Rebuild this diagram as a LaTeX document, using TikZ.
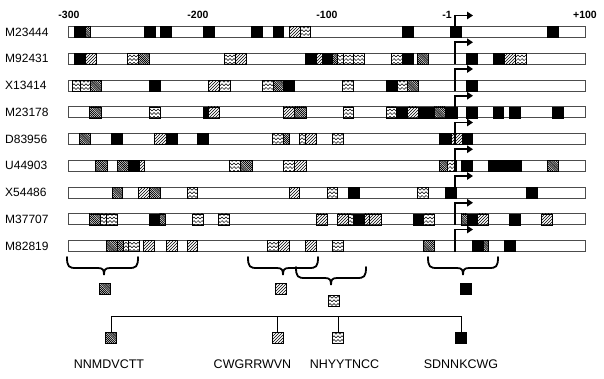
\documentclass[tikz,border=0pt]{standalone}
\usepackage{fontspec}
\setmainfont{Liberation Sans}
\usetikzlibrary{patterns,arrows.meta}

\pgfdeclarepatternformonly{densenw}{\pgfqpoint{-1pt}{-1pt}}{\pgfqpoint{3pt}{3pt}}{\pgfqpoint{2.1pt}{2.1pt}}{%
  \pgfsetlinewidth{0.75pt}%
  \pgfpathmoveto{\pgfqpoint{0pt}{2.1pt}}%
  \pgfpathlineto{\pgfqpoint{2.2pt}{-0.1pt}}%
  \pgfusepath{stroke}}
\pgfdeclarepatternformonly{sparsene}{\pgfqpoint{-1pt}{-1pt}}{\pgfqpoint{4pt}{4pt}}{\pgfqpoint{3pt}{3pt}}{%
  \pgfsetlinewidth{0.55pt}%
  \pgfpathmoveto{\pgfqpoint{0pt}{0pt}}%
  \pgfpathlineto{\pgfqpoint{3.1pt}{3.1pt}}%
  \pgfusepath{stroke}}
\pgfdeclarepatternformonly{wavy}{\pgfqpoint{-0.5pt}{-0.5pt}}{\pgfqpoint{4.5pt}{4pt}}{\pgfqpoint{4pt}{3.6pt}}{%
  \pgfsetlinewidth{0.5pt}%
  \pgfpathmoveto{\pgfqpoint{0pt}{0.6pt}}%
  \pgfpathlineto{\pgfqpoint{2pt}{2.6pt}}%
  \pgfpathlineto{\pgfqpoint{4pt}{0.6pt}}%
  \pgfusepath{stroke}}

\tikzset{
  bar/.style={draw=black!70, fill=white, line width=0.8pt},
  mB/.style={fill=black, draw=black, line width=0.5pt},
  mD/.style={pattern=densenw, draw=black, line width=0.5pt},
  mH/.style={pattern=sparsene, draw=black, line width=0.5pt},
  mW/.style={pattern=wavy, draw=black, line width=0.5pt},
  tss/.style={line width=1.8pt, line join=miter, -{Triangle[length=6pt,width=7.5pt]}},
  rowlab/.style={anchor=west, inner sep=0pt, font=\fontsize{12}{14}\selectfont},
  scl/.style={inner sep=0pt, font=\fontsize{10.5}{12}\selectfont\bfseries},
  brc/.style={line width=1.8pt, line cap=round},
  sq/.style={minimum size=11pt, inner sep=0pt, draw=black, line width=0.5pt},
  conn/.style={line width=0.8pt},
  leglab/.style={inner sep=0pt, font=\fontsize{12.5}{14}\selectfont}
}

\newcommand\seqrow[3]{%
  \node[rowlab] (#1) at (5,#2) {#1};
  \draw[bar] (68,{#2-5.5}) rectangle (585,{#2+5.5});
  \foreach \a/\b/\t in {#3} {\draw[m\t] (\a,{#2-5.5}) rectangle (\b,{#2+5.5});}
  \draw[tss] (455,{#2+5.5}) -- (455,{#2-16.5}) -- (473,{#2-16.5});
}
\newcommand\curlybrace[4]{% xa xb xm ytop
  \draw[brc] (#1,#4) .. controls (#1,{#4+10}) and ({#1+2},{#4+11}) .. ({#1+9},{#4+11})
    -- ({#3-6},{#4+11}) .. controls ({#3-1},{#4+11}) and (#3,{#4+13}) .. (#3,{#4+18})
    .. controls (#3,{#4+13}) and ({#3+1},{#4+11}) .. ({#3+6},{#4+11})
    -- ({#2-9},{#4+11}) .. controls ({#2-2},{#4+11}) and (#2,{#4+10}) .. (#2,#4);
}

\begin{document}
\begin{tikzpicture}[x=1pt,y=-1pt]
\useasboundingbox (0,0) rectangle (604,378);
\fill[white] (0,0) rectangle (604,378);

\node[scl] (s300) at (69,15) {-300};
\node[scl] (s200) at (198,15) {-200};
\node[scl] (s100) at (327,15) {-100};
\node[scl] (s1) at (447,15) {-1};
\node[scl] (sp100) at (585,15) {+100};

\seqrow{M23444}{32}{74/85/B, 85/90/D, 144/155/B, 160/171/B, 203/214/B, 251/262/B, 273/283/B, 289/300/H, 300/310/W, 402/413/B, 450/461/B, 547/558/B}
\seqrow{M92431}{58.75}{74/85/B, 85/96/H, 127/138/W, 138/149/D, 224/235/W, 235/246/H, 305/316/B, 316/322/H, 322/332/B, 332/337/D, 337/343/W, 343/353/W, 353/364/W, 391/402/W, 402/413/B, 417/428/D, 466/477/B, 493/504/B, 504/515/H, 515/526/W}
\seqrow{X13414}{85.5}{72/80/W, 80/90/W, 90/101/D, 149/160/B, 208/219/H, 219/230/W, 262/273/W, 273/283/D, 283/294/B, 342/353/W, 386/397/B, 397/407/W, 407/418/D, 466/477/B}
\seqrow{M23178}{112.25}{89/101/D, 149/160/W, 203/208/B, 208/219/H, 283/294/H, 294/306/D, 343/353/W, 386/396/W, 396/407/B, 407/418/H, 418/434/B, 434/445/D, 445/457/B, 466/477/B, 493/503/B, 509/520/B, 552/563/B}
\seqrow{D83956}{139}{79/90/D, 111/122/B, 154/166/H, 166/177/B, 197/208/B, 272/283/W, 283/289/D, 299/305/W, 305/316/H, 332/343/W, 439/451/B, 451/462/H, 462/472/B}
\seqrow{U44903}{165.75}{95/107/D, 117/128/D, 128/139/B, 139/144/H, 229/240/W, 240/252/D, 283/294/W, 294/306/H, 439/447/D, 447/456/W, 461/472/B, 488/494/B, 494/504/B, 504/515/B, 515/521/B, 547/558/D}
\seqrow{X54486}{192.5}{112/122/D, 138/149/H, 149/160/D, 187/197/W, 289/299/H, 327/337/W, 348/359/B, 417/428/W, 445/456/B, 526/537/B}
\seqrow{M37707}{219.25}{89/100/D, 100/106/W, 106/117/W, 149/159/B, 159/165/D, 192/203/W, 218/229/W, 316/327/H, 337/348/H, 348/353/W, 353/364/B, 364/369/H, 369/381/H, 413/423/B, 423/434/W, 461/467/D, 467/477/B, 477/488/H, 509/520/B, 541/552/H}
\seqrow{M82819}{246}{106/117/D, 117/123/D, 123/128/W, 128/139/W, 143/154/H, 166/177/H, 187/197/H, 267/278/W, 278/289/H, 305/316/H, 332/343/W, 423/434/D, 472/483/B, 483/488/D, 504/515/B}

% braces
\curlybrace{67}{138}{104}{257}
\curlybrace{248}{318}{283}{257}
\curlybrace{296}{366}{331}{267}
\curlybrace{428}{498}{463}{257}

\node[sq, mD] (kD) at (105,289) {};
\node[sq, mH] (kH) at (281,289) {};
\node[sq, mW] (kW) at (333.5,300.5) {};
\node[sq, mB] (kB) at (466,289) {};

% legend
\coordinate (hl) at (0,316.5);
\node[sq, mD] (lD) at (111,338) {};
\node[sq, mH] (lH) at (277.5,338) {};
\node[sq, mW] (lW) at (338,338) {};
\node[sq, mB] (lB) at (461,338) {};
\draw[conn] (lD.north) -- (lD.north |- hl) -- (lB.north |- hl) -- (lB.north);
\draw[conn] (lH.north) -- (lH.north |- hl);
\draw[conn] (lW.north) -- (lW.north |- hl);

\node[leglab] (tD) at (109,364) {NNMDVCTT};
\node[leglab] (tH) at (252.5,364) {CWGRRWVN};
\node[leglab] (tW) at (344.5,364) {NHYYTNCC};
\node[leglab] (tB) at (461,364) {SDNNKCWG};
\end{tikzpicture}
\end{document}
